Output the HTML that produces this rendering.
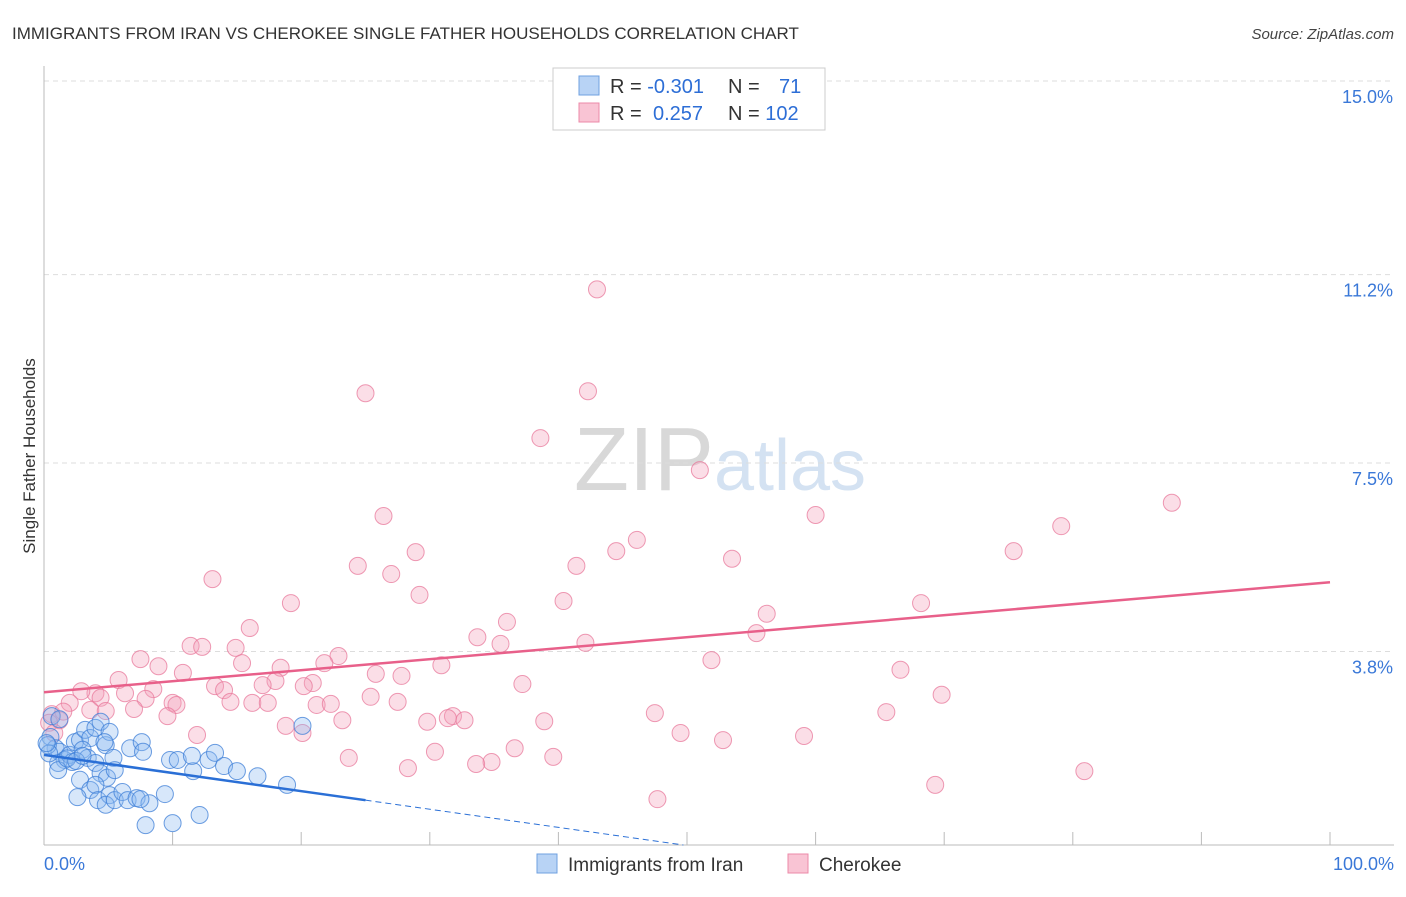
<!DOCTYPE html>
<html><head><meta charset="utf-8"><style>
body{margin:0;background:#fff;font-family:"Liberation Sans",sans-serif;}
svg text{font-family:"Liberation Sans",sans-serif;}
</style></head><body>
<svg id="chart" width="1406" height="892" xmlns="http://www.w3.org/2000/svg">
<text x="12" y="39" font-size="17" fill="#333">IMMIGRANTS FROM IRAN VS CHEROKEE SINGLE FATHER HOUSEHOLDS CORRELATION CHART</text>
<text x="1394" y="39" font-size="15" fill="#444" font-style="italic" text-anchor="end">Source: ZipAtlas.com</text>
<text x="35" y="456" font-size="17" fill="#333" text-anchor="middle" transform="rotate(-90 35 456)">Single Father Households</text>
<text x="720" y="490" font-size="90" fill="#ddd" text-anchor="middle" font-family="Liberation Serif"><tspan fill="#d8d8d8">ZIP</tspan><tspan fill="#d4e2f2" font-family="Liberation Sans" font-size="72">atlas</tspan></text>
<g id="grid"></g><g id="axes"></g><g id="pink"></g><g id="blue"></g><g id="lines"></g>
<g>
<rect x="553" y="68" width="272" height="62" fill="#fff" stroke="#ccc"/>
<rect x="579" y="76" width="20" height="19" fill="#b8d3f5" stroke="#6fa0e0"/>
<rect x="579" y="103" width="20" height="19" fill="#f9c4d4" stroke="#ec8aa8"/>
<text x="610" y="93" font-size="20" fill="#333">R = <tspan fill="#2d6ed6">-0.301</tspan></text>
<text x="728" y="93" font-size="20" fill="#333">N = <tspan x="779" fill="#2d6ed6">71</tspan></text>
<text x="610" y="120" font-size="20" fill="#333">R = <tspan x="653" fill="#2d6ed6">0.257</tspan></text>
<text x="728" y="120" font-size="20" fill="#333">N = <tspan fill="#2d6ed6">102</tspan></text>
</g>
<g>
<rect x="537" y="854" width="20" height="19" fill="#b8d3f5" stroke="#6fa0e0"/>
<text x="568" y="871" font-size="19" fill="#333">Immigrants from Iran</text>
<rect x="788" y="854" width="20" height="19" fill="#f9c4d4" stroke="#ec8aa8"/>
<text x="819" y="871" font-size="19" fill="#333">Cherokee</text>
</g>
</svg>
<script>
const yTicks=[3.8,7.5,11.2,15.0];
const yTickLabels=["3.8%","7.5%","11.2%","15.0%"];
const xTickLabels=["0.0%","100.0%"];
const pinkX=[43.0,25.0,42.3,38.6,51.0,26.4,60.0,87.7,79.1,46.1,28.9,44.5,75.4,53.5,24.4,41.4,27.0,13.1,29.2,40.4,19.2,68.2,56.2,36.0,16.0,33.7,55.4,11.4,12.3,14.9,35.5,42.1,7.5,22.9,51.9,8.9,15.4,21.8,30.9,10.8,18.4,25.8,27.8,66.6,5.8,18.0,20.9,17.0,37.2,4.0,6.3,8.5,13.3,14.0,20.2,2.9,4.4,7.9,69.8,25.4,2.0,10.0,10.3,14.5,16.2,17.4,21.2,22.3,27.5,3.6,7.0,4.8,0.6,1.2,9.6,31.8,31.4,32.7,47.5,65.5,23.2,29.8,38.9,18.8,20.1,11.9,49.5,59.1,52.8,36.6,30.4,23.7,39.6,34.8,33.6,28.3,80.9,69.3,47.7,0.4,1.5,0.8];
const pinkY=[10.91,8.87,8.91,7.99,7.36,6.46,6.48,6.72,6.26,5.99,5.75,5.77,5.77,5.62,5.48,5.48,5.32,5.22,4.91,4.79,4.75,4.75,4.54,4.38,4.26,4.08,4.16,3.91,3.89,3.87,3.95,3.97,3.65,3.71,3.63,3.51,3.57,3.57,3.53,3.38,3.48,3.36,3.32,3.44,3.24,3.22,3.18,3.14,3.16,2.98,2.98,3.06,3.12,3.04,3.12,3.02,2.89,2.87,2.95,2.91,2.79,2.79,2.75,2.81,2.79,2.79,2.75,2.77,2.81,2.65,2.67,2.63,2.57,2.45,2.53,2.53,2.49,2.45,2.59,2.61,2.45,2.42,2.43,2.34,2.20,2.16,2.20,2.14,2.06,1.90,1.83,1.71,1.73,1.63,1.59,1.51,1.45,1.18,0.90,2.40,2.62,2.20];
const blueX=[0.6,1.2,0.5,0.9,1.2,0.3,1.6,1.1,2.0,2.4,2.2,2.8,3.2,3.6,4.0,4.4,3.0,3.4,4.8,5.1,4.7,5.4,4.0,2.8,3.6,2.6,4.4,4.9,4.0,5.5,4.2,5.1,4.8,5.5,6.1,6.7,7.6,7.7,6.5,7.2,8.2,9.4,7.5,9.8,10.4,11.6,11.5,12.8,13.3,14.0,15.0,16.6,18.9,20.1,7.9,10.0,12.1,1.1,0.4,1.8,2.5,3.0,0.2];
const blueY=[2.53,2.47,2.12,1.90,1.83,1.96,1.67,1.61,1.77,2.02,1.63,2.06,2.26,2.10,2.30,2.42,1.87,1.71,1.96,2.22,2.02,1.71,1.61,1.28,1.08,0.94,1.41,1.32,1.18,1.47,0.88,0.98,0.79,0.88,1.04,1.90,2.02,1.83,0.88,0.92,0.82,1.00,0.90,1.67,1.67,1.45,1.75,1.67,1.81,1.55,1.45,1.35,1.18,2.34,0.39,0.43,0.59,1.47,1.80,1.70,1.65,1.75,2.00];
const pinkTrend=[3.0,5.16];
const blueTrend=[1.77,0.88];
const blueSolidEnd=25;
const NS="http://www.w3.org/2000/svg";
const X=v=>44+v*12.86;
const Y=v=>845-v*50.93;
function mk(t,a,p){const e=document.createElementNS(NS,t);for(const k in a)e.setAttribute(k,a[k]);p.appendChild(e);return e;}
const grid=document.getElementById('grid'),axes=document.getElementById('axes');
yTicks.forEach((t,i)=>{
 const l=mk('line',{x1:44,x2:1394,y1:Y(t),y2:Y(t),stroke:'#ddd','stroke-dasharray':'5,4'},grid);
 
 
 const tx=mk('text',{x:1393,y:Y(t)+22,'font-size':18,fill:'#3a78d8','text-anchor':'end'},axes);
 tx.textContent=yTickLabels[i];
 
 
});
const yax=mk('line',{x1:44,x2:44,y1:66,y2:845,stroke:'#bbb'},axes);


const xax=mk('line',{x1:44,x2:1394,y1:845,y2:845,stroke:'#bbb'},axes);


for(let i=0;i<=10;i++){const t=mk('line',{x1:X(i*10),x2:X(i*10),y1:832,y2:845,stroke:'#bbb'},axes);
 
 }
[[0,'start',44],[100,'end',1394]].forEach((d,i)=>{const t=mk('text',{x:d[2],y:870,'font-size':18,fill:'#3a78d8','text-anchor':d[1]},axes);t.textContent=xTickLabels[i];
 
 });
const pg=document.getElementById('pink'),bg=document.getElementById('blue');
pinkX.forEach((x,i)=>{const c=mk('circle',{cx:X(x),cy:Y(pinkY[i]),r:8.5,fill:'rgba(244,160,186,0.35)',stroke:'rgba(232,120,155,0.75)','stroke-width':1},pg);
 
 });
blueX.forEach((x,i)=>{const c=mk('circle',{cx:X(x),cy:Y(blueY[i]),r:8.5,fill:'rgba(140,185,240,0.35)',stroke:'rgba(60,125,215,0.75)','stroke-width':1},bg);
 
 });
const lg=document.getElementById('lines');
const pl=mk('line',{x1:X(0),y1:Y(pinkTrend[0]),x2:X(100),y2:Y(pinkTrend[1]),stroke:'#e8608a','stroke-width':2.5},lg);


const bs=(blueTrend[1]-blueTrend[0])/blueSolidEnd;
const bl=mk('line',{x1:X(0),y1:Y(blueTrend[0]),x2:X(blueSolidEnd),y2:Y(blueTrend[1]),stroke:'#2a6fd6','stroke-width':2.5},lg);


const zx=-blueTrend[0]/bs;
const bd=mk('line',{x1:X(blueSolidEnd),y1:Y(blueTrend[1]),x2:X(zx),y2:Y(0),stroke:'#2a6fd6','stroke-width':1,'stroke-dasharray':'6,4'},lg);


</script>
</body></html>
